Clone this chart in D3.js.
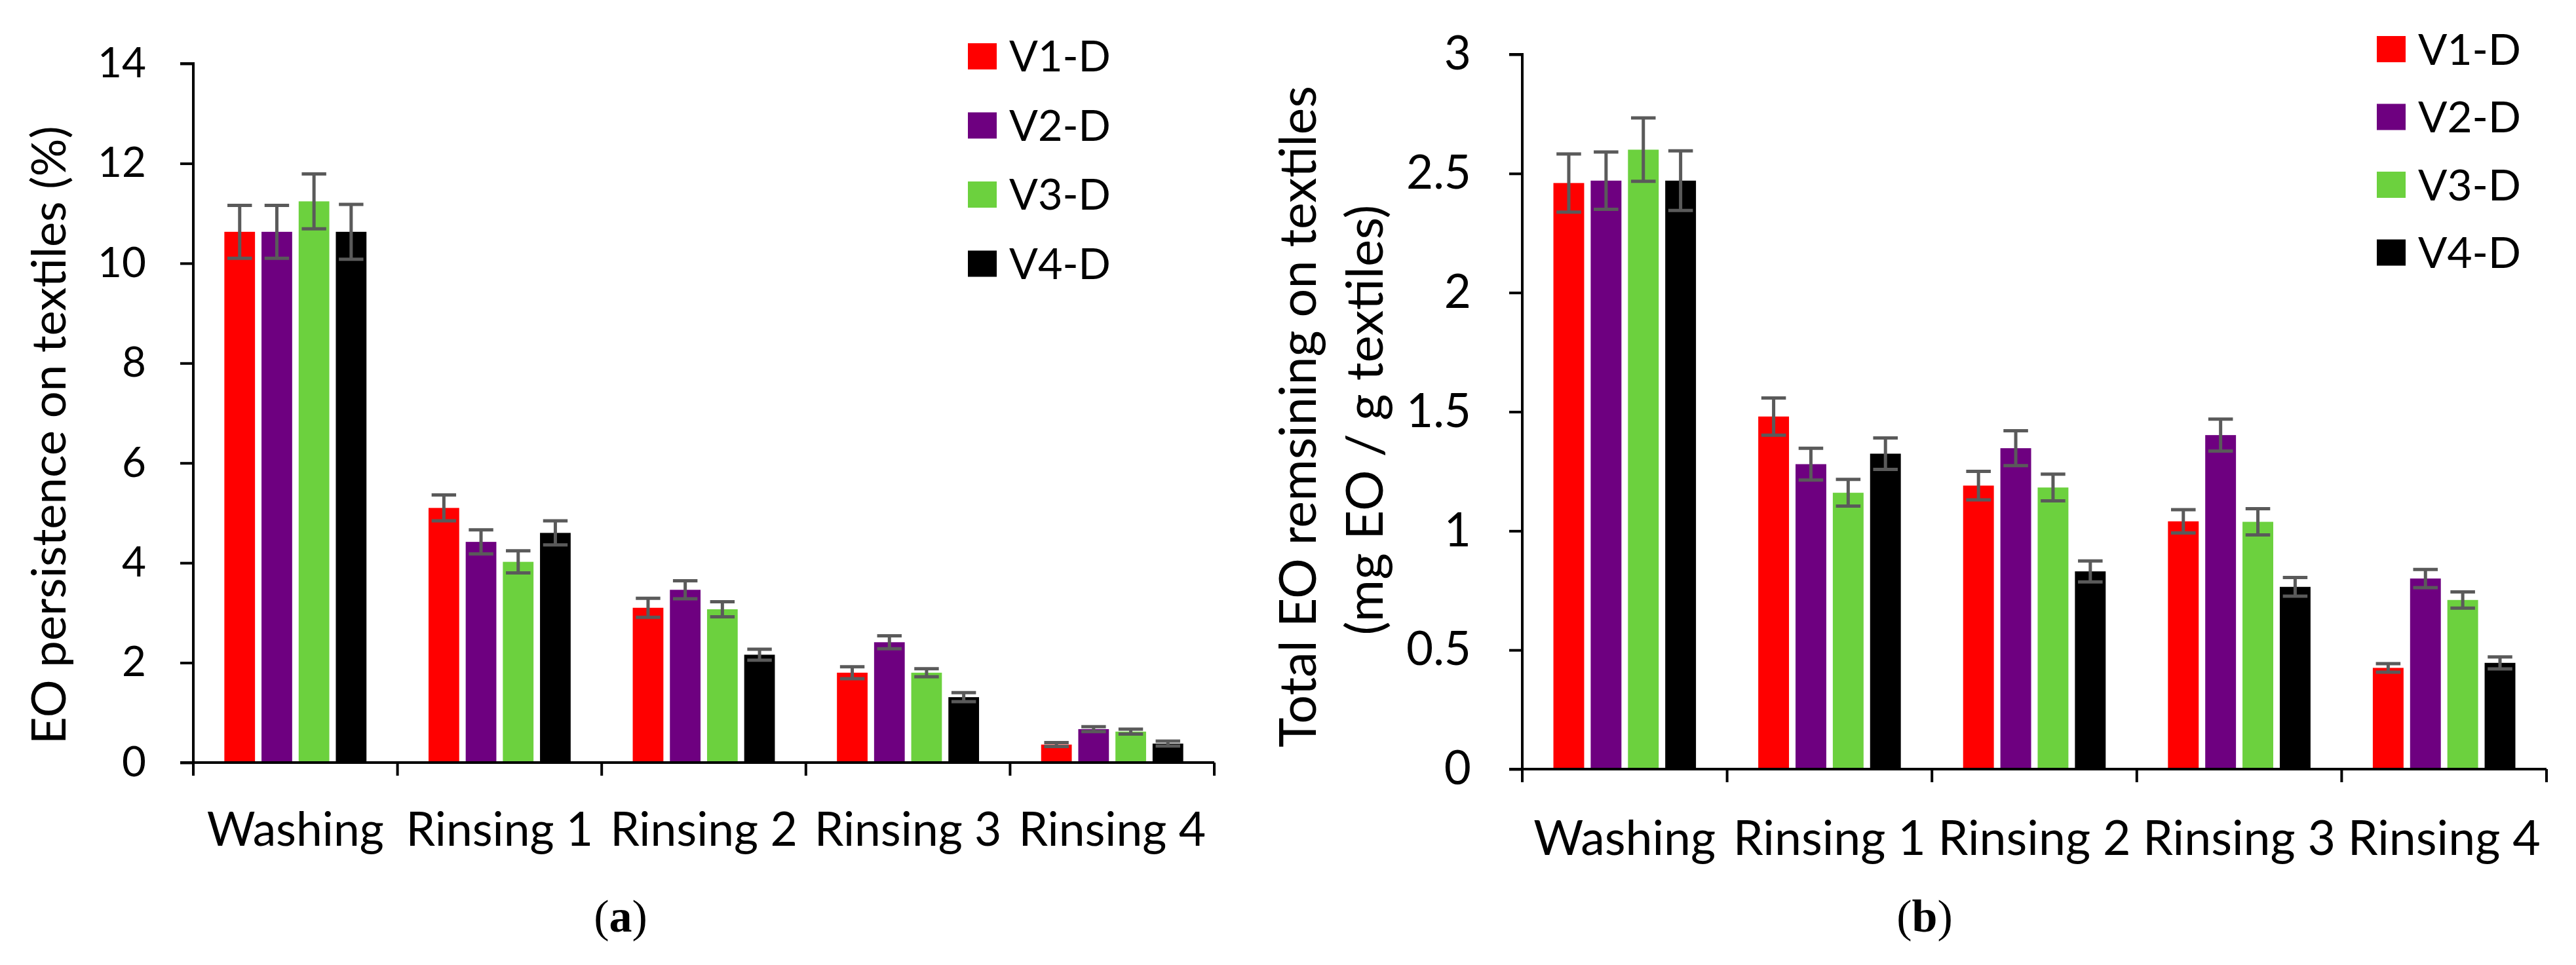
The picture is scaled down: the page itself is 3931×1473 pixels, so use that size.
<!DOCTYPE html>
<html>
<head>
<meta charset="utf-8">
<script src="https://cdn.jsdelivr.net/npm/d3@7"></script>
<style>
  html, body { margin: 0; padding: 0; background: #fff; }
  svg { display: block; }
  text { font-family: Lato, "Open Sans", sans-serif; fill: #000; }
</style>
</head>
<body>
<svg id="chart" width="3931" height="1473"></svg>
<script>
// ---------- data ----------
const categories = ["Washing", "Rinsing 1", "Rinsing 2", "Rinsing 3", "Rinsing 4"];
const seriesNames = ["V1-D", "V2-D", "V3-D", "V4-D"];
const seriesColors = ["#FF0000", "#6E0080", "#6CD13E", "#000000"];

// Panel (a): EO persistence on textiles (%)
const persistV1 = [10.63, 5.10, 3.10, 1.80, 0.36];
const persistV2 = [10.63, 4.42, 3.46, 2.41, 0.67];
const persistV3 = [11.24, 4.02, 3.07, 1.80, 0.62];
const persistV4 = [10.63, 4.60, 2.16, 1.31, 0.38];
const persistErrV1 = [0.53, 0.26, 0.19, 0.12, 0.04];
const persistErrV2 = [0.53, 0.24, 0.18, 0.13, 0.05];
const persistErrV3 = [0.55, 0.22, 0.15, 0.08, 0.05];
const persistErrV4 = [0.55, 0.24, 0.11, 0.09, 0.05];
const persistTicks = [0, 2, 4, 6, 8, 10, 12, 14];

// Panel (b): Total EO remaining on textiles (mg EO / g textiles)
const totalV1 = [2.46, 1.48, 1.19, 1.04, 0.425];
const totalV2 = [2.47, 1.28, 1.347, 1.402, 0.80];
const totalV3 = [2.60, 1.16, 1.182, 1.038, 0.71];
const totalV4 = [2.47, 1.324, 0.83, 0.765, 0.446];
const totalErrV1 = [0.122, 0.078, 0.060, 0.049, 0.018];
const totalErrV2 = [0.120, 0.067, 0.073, 0.067, 0.038];
const totalErrV3 = [0.133, 0.056, 0.056, 0.055, 0.034];
const totalErrV4 = [0.125, 0.066, 0.044, 0.039, 0.025];
const totalTicks = [0, 0.5, 1, 1.5, 2, 2.5, 3];

// ---------- drawing ----------
const svg = d3.select("#chart");
const BASE = 66;
const AXIS_W = 4;
const ERR_COLOR = "#5a5a5a";

// font size that makes a sample string reach a target width
function fitSize(sample, target) {
  const t = svg.append("text").attr("font-size", BASE).text(sample);
  const w = t.node().getComputedTextLength();
  t.remove();
  return BASE * target / w;
}

function drawPanel(cfg) {
  const g = svg.append("g");
  const x0 = d3.scaleBand().domain(categories).range([cfg.left, cfg.right]).paddingInner(0).paddingOuter(0);
  const bw = x0.bandwidth();
  const groupW = bw * 0.696;
  const x1 = d3.scaleBand().domain(seriesNames).range([(bw - groupW) / 2, (bw + groupW) / 2]).paddingInner(0.175).paddingOuter(0);
  const y = d3.scaleLinear().domain(cfg.domain).range([cfg.bottom, cfg.top]);

  const rows = categories.map((c, i) => ({
    cat: c,
    vals: seriesNames.map((s, k) => ({ s, k, v: cfg.values[k][i], e: cfg.errors[k][i] }))
  }));

  // bars
  const grp = g.selectAll("g.cat").data(rows).join("g")
    .attr("transform", d => `translate(${x0(d.cat)},0)`);
  grp.selectAll("rect").data(d => d.vals).join("rect")
    .attr("x", d => x1(d.s))
    .attr("width", x1.bandwidth())
    .attr("y", d => y(d.v))
    .attr("height", d => y(0) - y(d.v))
    .attr("fill", d => seriesColors[d.k]);

  // error bars
  const capW = x1.bandwidth() * 0.8;
  const eb = grp.selectAll("g.err").data(d => d.vals).join("g").attr("class", "err")
    .attr("stroke", ERR_COLOR).attr("stroke-width", 5).attr("fill", "none");
  eb.append("line")
    .attr("x1", d => x1(d.s) + x1.bandwidth() / 2).attr("x2", d => x1(d.s) + x1.bandwidth() / 2)
    .attr("y1", d => y(d.v + d.e)).attr("y2", d => y(d.v - d.e));
  eb.append("line")
    .attr("x1", d => x1(d.s) + (x1.bandwidth() - capW) / 2).attr("x2", d => x1(d.s) + (x1.bandwidth() + capW) / 2)
    .attr("y1", d => y(d.v + d.e)).attr("y2", d => y(d.v + d.e));
  eb.append("line")
    .attr("x1", d => x1(d.s) + (x1.bandwidth() - capW) / 2).attr("x2", d => x1(d.s) + (x1.bandwidth() + capW) / 2)
    .attr("y1", d => y(d.v - d.e)).attr("y2", d => y(d.v - d.e));

  // y axis
  const tickFs = fitSize(cfg.tickSample, cfg.tickSampleW);
  const yAxis = d3.axisLeft(y).tickValues(cfg.ticks).tickSize(20).tickPadding(cfg.tickPad)
    .tickFormat(d => String(d));
  const ya = g.append("g").attr("transform", `translate(${cfg.left},0)`).call(yAxis);
  ya.select(".domain").attr("stroke", "#000").attr("stroke-width", AXIS_W)
    .attr("d", `M-20,${cfg.top}H0V${cfg.bottom}H-20`);
  ya.selectAll(".tick line").attr("stroke", "#000").attr("stroke-width", AXIS_W);
  ya.selectAll(".tick text").attr("font-size", tickFs).attr("font-family", "Lato").attr("fill", "#000");

  // x axis (ticks at category boundaries)
  const catFs = fitSize("Washing", cfg.catW);
  const xb = g.append("g");
  xb.append("line").attr("x1", cfg.left - 20).attr("x2", cfg.right)
    .attr("y1", y(0)).attr("y2", y(0)).attr("stroke", "#000").attr("stroke-width", AXIS_W);
  const bounds = categories.map(c => x0(c)).concat([cfg.right]);
  xb.selectAll("line.bt").data(bounds).join("line").attr("class", "bt")
    .attr("x1", d => d).attr("x2", d => d)
    .attr("y1", y(0)).attr("y2", y(0) + 20)
    .attr("stroke", "#000").attr("stroke-width", AXIS_W);
  xb.selectAll("text.cl").data(categories).join("text").attr("class", "cl")
    .attr("x", d => x0(d) + bw / 2).attr("y", cfg.labelY)
    .attr("text-anchor", "middle").attr("font-size", catFs).text(d => d);

  // y label lines (each fitted to its measured length)
  cfg.ylabel.forEach((line, i) => {
    const fs = fitSize(line, cfg.ylabLen[i]);
    g.append("text")
      .attr("transform", `translate(${cfg.ylabX[i] + 0.3 * fs},${cfg.ylabY[i]}) rotate(-90)`)
      .attr("text-anchor", "middle").attr("font-size", fs).text(line);
  });

  // legend
  const legFs = fitSize("V1-D", cfg.legTextW);
  const lg = g.append("g");
  const items = lg.selectAll("g").data(seriesNames).join("g")
    .attr("transform", (d, i) => `translate(${cfg.legX},${cfg.legY + i * cfg.legStep})`);
  items.append("rect").attr("x", 0).attr("y", -20).attr("width", 44).attr("height", 40)
    .attr("fill", (d, i) => seriesColors[i]);
  items.append("text").attr("x", 63).attr("y", 0).attr("dy", "0.36em")
    .attr("font-size", legFs).text(d => d);

  // panel letter
  const pl = g.append("text").attr("x", cfg.letterX).attr("y", 1422)
    .attr("text-anchor", "middle").attr("font-size", 70)
    .style("font-family", "'Liberation Serif', 'DejaVu Serif', serif");
  pl.append("tspan").text("(");
  pl.append("tspan").attr("font-weight", "bold").text(cfg.letter);
  pl.append("tspan").text(")");
}

drawPanel({
  left: 295, right: 1853, top: 97, bottom: 1164,
  domain: [0, 14], ticks: persistTicks, tickPad: 52, tickSample: "14", tickSampleW: 74,
  values: [persistV1, persistV2, persistV3, persistV4],
  errors: [persistErrV1, persistErrV2, persistErrV3, persistErrV4],
  labelY: 1291, catW: 270,
  ylabel: ["EO persistence on textiles (%)"], ylabX: [78], ylabY: [664], ylabLen: [944],
  legX: 1477, legY: 86, legStep: 105.5, legTextW: 155,
  letter: "a", letterX: 947
});

drawPanel({
  left: 2323, right: 3886, top: 83, bottom: 1174,
  domain: [0, 3], ticks: totalTicks, tickPad: 58, tickSample: "2.5", tickSampleW: 99,
  values: [totalV1, totalV2, totalV3, totalV4],
  errors: [totalErrV1, totalErrV2, totalErrV3, totalErrV4],
  labelY: 1305, catW: 278,
  ylabel: ["Total EO remsining on textiles", "(mg EO / g  textiles)"],
  ylabX: [1985, 2087], ylabY: [636, 641], ylabLen: [1010, 657],
  legX: 3627, legY: 75, legStep: 103.5, legTextW: 157,
  letter: "b", letterX: 2937
});
</script>
</body>
</html>
